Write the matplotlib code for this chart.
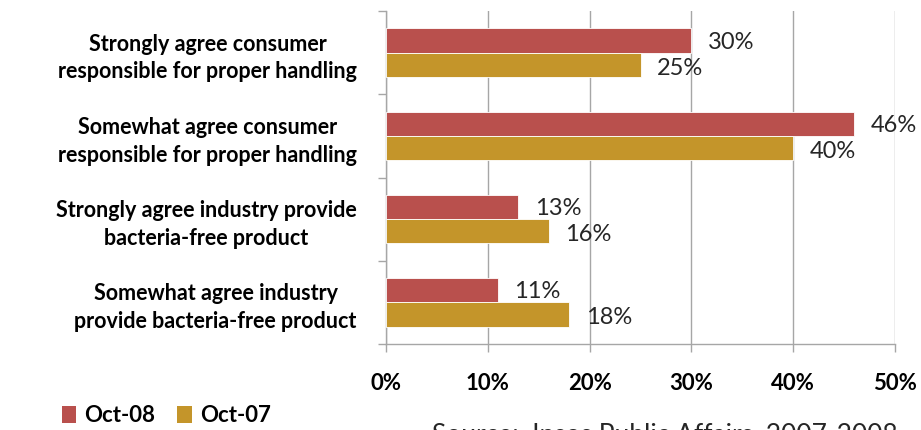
import numpy as np
import matplotlib
matplotlib.use("Agg")
import matplotlib.pyplot as plt
from matplotlib.patches import Patch

plt.rcParams["font.family"] = ["Lato", "DejaVu Sans"]

categories = [
    "Strongly agree consumer\nresponsible for proper handling",
    "Somewhat agree consumer\nresponsible for proper handling",
    "Strongly agree industry provide\nbacteria-free product",
    "Somewhat agree industry\nprovide bacteria-free product",
]
oct08 = [30, 46, 13, 11]
oct07 = [25, 40, 16, 18]
series_names = ["Oct-08", "Oct-07"]
xticks = [0, 10, 20, 30, 40, 50]
source = "Source:  Ipsos Public Affairs, 2007-2008"

RED = "#B9504D"
GOLD = "#C4952A"
GRID = "#A6A6A6"
TXT = "#262626"

fig = plt.figure(figsize=(9.21, 4.30), dpi=100)
ax = fig.add_axes([386 / 921, 1 - 344 / 430, (895 - 386) / 921, (344 - 11) / 430])

y = np.arange(len(categories))
h = 0.29
ax.barh(y - h / 2, oct08, height=h, color=RED, edgecolor="white", linewidth=0.6, zorder=3)
ax.barh(y + h / 2, oct07, height=h, color=GOLD, edgecolor="white", linewidth=0.6, zorder=3)

for yi, v in zip(y - h / 2, oct08):
    ax.text(v + 1.6, yi + 0.02, f"{v}%", va="center", ha="left", fontsize=17, color=TXT, zorder=4)
for yi, v in zip(y + h / 2, oct07):
    ax.text(v + 1.6, yi + 0.04, f"{v}%", va="center", ha="left", fontsize=17, color=TXT, zorder=4)

ax.set_xlim(0, 50)
ax.set_ylim(len(categories) - 0.5, -0.5)

ax.set_xticks(xticks)
ax.set_xticklabels([f"{t}%" for t in xticks], fontsize=16, fontweight="bold", color="black")
ax.tick_params(axis="x", length=6, width=1, color=GRID, pad=15)

ax.set_yticks(y)
ax.set_yticklabels(categories, fontsize=15.5, fontweight="bold", color="black",
                   multialignment="center", linespacing=1.4)
ax.tick_params(axis="y", which="major", length=0, pad=21)
ax.set_yticks(np.arange(len(categories) + 1) - 0.5, minor=True)
ax.tick_params(axis="y", which="minor", length=6, width=1, color=GRID)

ax.grid(axis="x", color=GRID, linewidth=1, zorder=0)
for s in ("top", "right"):
    ax.spines[s].set_visible(False)
for s in ("left", "bottom"):
    ax.spines[s].set_color(GRID)
    ax.spines[s].set_linewidth(1)

handles = [Patch(facecolor=RED, label=series_names[0]), Patch(facecolor=GOLD, label=series_names[1])]
fig.legend(handles=handles, loc="center left", bbox_to_anchor=(42 / 921, 1 - 416 / 430),
           ncol=2, frameon=False, handlelength=0.65, handleheight=0.8, handletextpad=0.35,
           columnspacing=1.0, prop={"size": 16, "weight": "bold"})

fig.text(432 / 921, 1 - 423 / 430, source, ha="left", va="top", fontsize=19, color=TXT)

fig.savefig("out.png", dpi=100)
